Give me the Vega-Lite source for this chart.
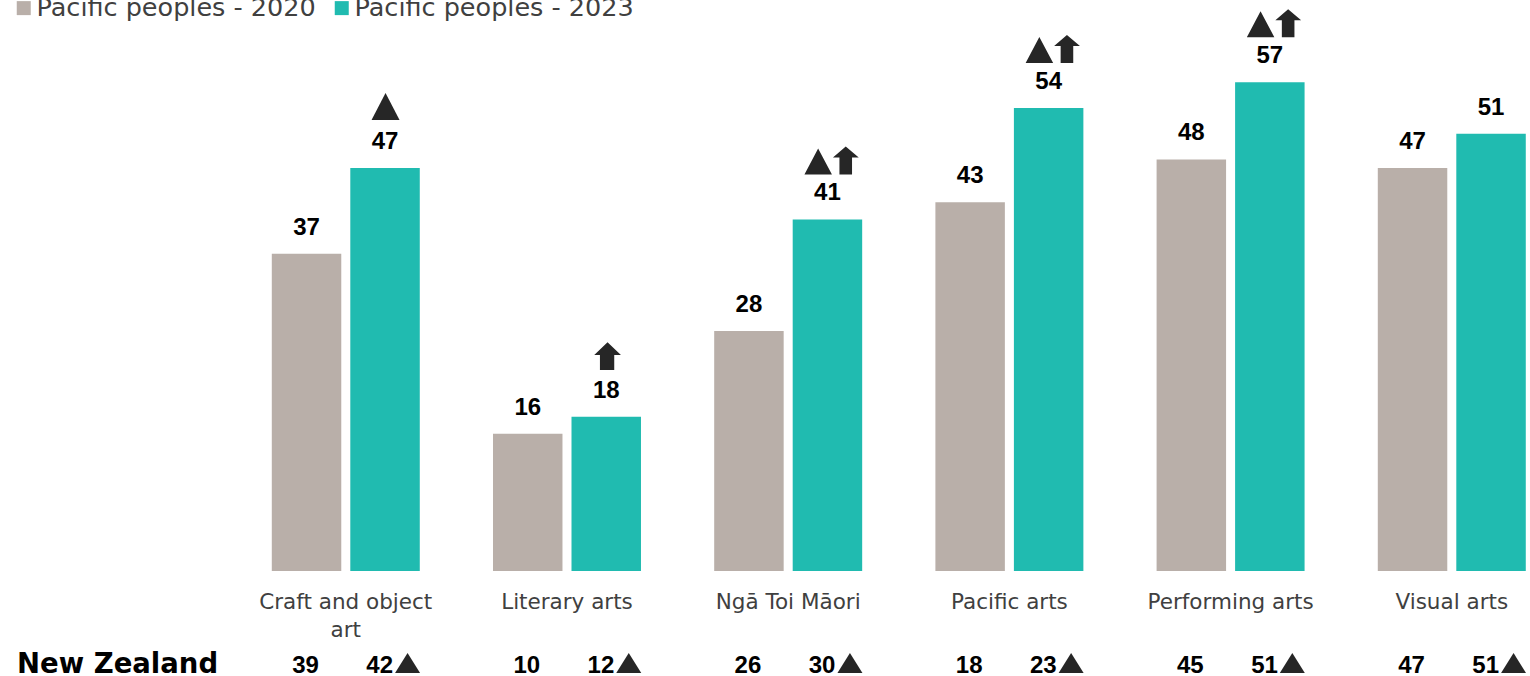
{
  "$schema": "https://vega.github.io/schema/vega-lite/v6.json",
  "width": 1530,
  "height": 676,
  "autosize": {"type": "none"},
  "padding": 0,
  "background": "white",
  "config": {"view": {"stroke": null}, "font": "DejaVu Sans"},
  "data": {
    "values": [
      {"category": "Craft and object art", "series": "Pacific peoples - 2020", "value": 37, "nz": 39, "sym": "none"},
      {"category": "Craft and object art", "series": "Pacific peoples - 2023", "value": 47, "nz": 42, "sym": "▲"},
      {"category": "Literary arts", "series": "Pacific peoples - 2020", "value": 16, "nz": 10, "sym": "none"},
      {"category": "Literary arts", "series": "Pacific peoples - 2023", "value": 18, "nz": 12, "sym": "⬆"},
      {"category": "Ngā Toi Māori", "series": "Pacific peoples - 2020", "value": 28, "nz": 26, "sym": "none"},
      {"category": "Ngā Toi Māori", "series": "Pacific peoples - 2023", "value": 41, "nz": 30, "sym": "▲⬆"},
      {"category": "Pacific arts", "series": "Pacific peoples - 2020", "value": 43, "nz": 18, "sym": "none"},
      {"category": "Pacific arts", "series": "Pacific peoples - 2023", "value": 54, "nz": 23, "sym": "▲⬆"},
      {"category": "Performing arts", "series": "Pacific peoples - 2020", "value": 48, "nz": 45, "sym": "none"},
      {"category": "Performing arts", "series": "Pacific peoples - 2023", "value": 57, "nz": 51, "sym": "▲⬆"},
      {"category": "Visual arts", "series": "Pacific peoples - 2020", "value": 47, "nz": 47, "sym": "none"},
      {"category": "Visual arts", "series": "Pacific peoples - 2023", "value": 51, "nz": 51, "sym": "none"}
    ]
  },
  "encoding": {
    "x": {
      "field": "category",
      "type": "nominal",
      "scale": {
        "domain": ["New Zealand", "Craft and object art", "Literary arts", "Ngā Toi Māori", "Pacific arts", "Performing arts", "Visual arts"],
        "paddingInner": 0.331,
        "paddingOuter": 0.1239,
        "align": 0.923
      },
      "axis": {
        "orient": "bottom",
        "offset": -105,
        "title": null,
        "ticks": false,
        "tickSize": 0,
        "domain": false,
        "grid": false,
        "labelAngle": 0,
        "labelFont": "DejaVu Sans",
        "labelFontSize": 21.5,
        "labelColor": "#404040",
        "labelPadding": 37,
        "labelBaseline": "alphabetic",
        "labelLineHeight": 28,
        "labelLimit": 400,
        "labelOverlap": false,
        "labelExpr": "datum.value == 'New Zealand' ? '' : datum.value == 'Craft and object art' ? ['Craft and object', 'art'] : datum.value"
      }
    }
  },
  "layer": [
    {
      "mark": {"type": "bar"},
      "encoding": {
        "xOffset": {"field": "series", "type": "nominal", "scale": {"domain": ["Pacific peoples - 2020", "Pacific peoples - 2023"], "paddingInner": 0.115, "paddingOuter": 0}},
        "y": {"field": "value", "type": "quantitative", "scale": {"domain": [-12.245, 66.59], "nice": false, "zero": false}, "axis": null},
        "y2": {"datum": 0},
        "color": {
          "field": "series",
          "type": "nominal",
          "scale": {"domain": ["Pacific peoples - 2020", "Pacific peoples - 2023"], "range": ["#b9afa9", "#20bbb0"]},
          "legend": {
            "orient": "none",
            "legendX": 11,
            "legendY": -5,
            "direction": "horizontal",
            "title": null,
            "symbolType": "square",
            "symbolSize": 196,
            "symbolStrokeWidth": 0,
            "labelFont": "DejaVu Sans",
            "labelFontSize": 25.5,
            "labelColor": "#404040",
            "labelOffset": 0,
            "columnPadding": 13,
            "labelLimit": 500
          }
        }
      }
    },
    {
      "mark": {"type": "text", "font": "Liberation Sans", "fontWeight": "bold", "fontSize": 24, "baseline": "alphabetic", "dy": -19, "color": "#000000"},
      "encoding": {
        "xOffset": {"field": "series", "type": "nominal"},
        "y": {"field": "value", "type": "quantitative"},
        "text": {"field": "value", "type": "quantitative"}
      }
    },
    {
      "transform": [{"filter": "datum.sym != 'none'"}],
      "mark": {"type": "point", "filled": true, "size": 4, "opacity": 1, "color": "#262626", "strokeWidth": 0, "yOffset": -59},
      "encoding": {
        "xOffset": {"field": "series", "type": "nominal"},
        "y": {"field": "value", "type": "quantitative"},
        "shape": {
          "field": "sym",
          "type": "nominal",
          "legend": null,
          "scale": {
            "domain": ["▲", "⬆", "▲⬆"],
            "range": [
              "M-13.5,11L0.5,-16L14.5,11Z",
              "M1.3,-15.3L14.7,-2.6L8,-2.6L8,12.4L-6.3,12.4L-6.3,-2.6L-12,-2.6Z",
              "M-23,14L-9.3,-12L4.5,14ZM18.3,-14L31.3,-3L24.6,-3L24.6,14L12,14L12,-3L5.5,-3Z"
            ]
          }
        }
      }
    },
    {
      "transform": [{"filter": "datum.series == 'Pacific peoples - 2020'"}],
      "mark": {"type": "text", "font": "Liberation Sans", "fontWeight": "bold", "fontSize": 24, "baseline": "alphabetic", "dx": -1, "color": "#000000"},
      "encoding": {
        "xOffset": {"field": "series", "type": "nominal"},
        "y": {"datum": -11.9},
        "text": {"field": "nz", "type": "quantitative"}
      }
    },
    {
      "transform": [{"filter": "datum.series == 'Pacific peoples - 2023'"}],
      "mark": {"type": "text", "font": "Liberation Sans", "fontWeight": "bold", "fontSize": 24, "baseline": "alphabetic", "align": "right", "dx": 8, "color": "#000000"},
      "encoding": {
        "xOffset": {"field": "series", "type": "nominal"},
        "y": {"datum": -11.9},
        "text": {"field": "nz", "type": "quantitative"}
      }
    },
    {
      "transform": [{"filter": "datum.series == 'Pacific peoples - 2023'"}],
      "mark": {"type": "point", "filled": true, "size": 4, "opacity": 1, "color": "#262626", "strokeWidth": 0, "shape": "M10,0L22.5,-20L35,0Z"},
      "encoding": {
        "xOffset": {"field": "series", "type": "nominal"},
        "y": {"datum": -11.9}
      }
    },
    {
      "data": {"values": [{"label": "New Zealand"}]},
      "mark": {"type": "text", "font": "DejaVu Sans", "fontWeight": "bold", "fontSize": 27.5, "baseline": "alphabetic", "dx": -7, "color": "#000000"},
      "encoding": {
        "x": {"field": "label", "type": "nominal"},
        "y": {"datum": -11.9},
        "text": {"field": "label", "type": "nominal"}
      }
    }
  ]
}
